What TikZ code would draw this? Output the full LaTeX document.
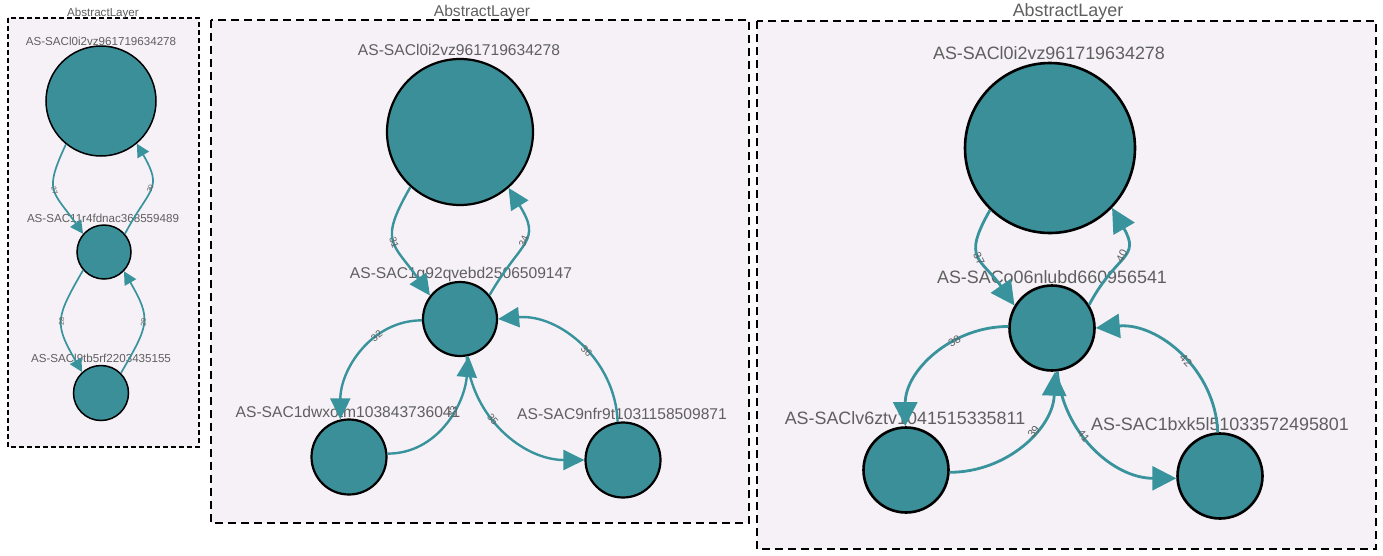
\documentclass[tikz,border=0pt]{standalone}
\usepackage{fontspec}
\setmainfont{Liberation Sans}
\usetikzlibrary{arrows.meta}

\definecolor{nodeteal}{RGB}{58,143,153}
\definecolor{edgeteal}{RGB}{57,147,156}
\definecolor{panelbg}{RGB}{245,241,247}
\definecolor{labelgray}{RGB}{95,95,95}

\tikzset{
  layer/.style={draw=black, fill=panelbg},
  vertex/.style={circle, draw=black, fill=nodeteal, inner sep=0pt},
  vname/.style={text=labelgray, anchor=base, inner sep=0pt},
  link/.style={draw=edgeteal},
  weight/.style={text=labelgray, sloped, inner sep=0pt},
}

\begin{document}
\begin{tikzpicture}[x=1pt, y=1pt]

\useasboundingbox (0,0) rectangle (1383,-555);

% small layer
\draw[layer, line width=1.2pt, dash pattern=on 5pt off 3pt] (8,-18) rectangle (199,-447);
\node[vname, font={\fontsize{11.6}{12}\selectfont}] (l1-title) at (103,-16) {AbstractLayer};

\node[vertex, minimum size=110pt, line width=1.5pt] (l1-a) at (101,-101) {};
\node[vertex, minimum size=54pt, line width=1.5pt] (l1-b) at (104,-252) {};
\node[vertex, minimum size=55pt, line width=1.5pt] (l1-c) at (101,-393) {};

\node[vname, font={\fontsize{11.6}{12}\selectfont}] (l1-a-name) at (101,-45) {AS-SACl0i2vz961719634278};
\node[vname, font={\fontsize{11.6}{12}\selectfont}] (l1-b-name) at (103,-222) {AS-SAC11r4fdnac368559489};
\node[vname, font={\fontsize{11.6}{12}\selectfont}] (l1-c-name) at (101,-362) {AS-SACl9tb5rf2203435155};

\begin{scope}[link, line width=1.7pt, -{Triangle[length=13pt,width=13pt]}]
\draw (l1-a.231) to[out=245,in=125,looseness=1.5] node[weight, pos=.5, font={\fontsize{7}{7}\selectfont}] {27} (l1-b.139);
\draw (l1-b.41) to[out=62,in=-60,looseness=1.5] node[weight, pos=.5, font={\fontsize{7}{7}\selectfont}] {30} (l1-a.-50);
\draw (l1-b.221) to[out=240,in=120,looseness=1.4] node[weight, pos=.5, font={\fontsize{7}{7}\selectfont}] {28} (l1-c.132);
\draw (l1-c.45) to[out=60,in=-60,looseness=1.4] node[weight, pos=.5, font={\fontsize{7}{7}\selectfont}] {29} (l1-b.-44);
\end{scope}

% middle layer
\draw[layer, line width=2pt, dash pattern=on 8pt off 5pt] (211,-20) rectangle (749,-523);
\node[vname, font={\fontsize{15.6}{16}\selectfont}] (l2-title) at (482,-16.5) {AbstractLayer};

\node[vertex, minimum size=146pt, line width=2.2pt] (l2-a) at (460,-132) {};
\node[vertex, minimum size=74pt, line width=2.2pt] (l2-b) at (460,-319) {};
\node[vertex, minimum size=75pt, line width=2.2pt] (l2-c) at (349,-457) {};
\node[vertex, minimum size=75pt, line width=2.2pt] (l2-d) at (623,-460) {};

\node[vname, font={\fontsize{15.6}{16}\selectfont}] (l2-a-name) at (459,-55.6) {AS-SACl0i2vz961719634278};
\node[vname, font={\fontsize{15.6}{16}\selectfont}] (l2-b-name) at (461,-278.6) {AS-SAC1g92qvebd2506509147};
\node[vname, font={\fontsize{15.6}{16}\selectfont}] (l2-c-name) at (348,-417.6) {AS-SAC1dwxotm103843736041};
\node[vname, font={\fontsize{15.6}{16}\selectfont}] (l2-d-name) at (622,-419.6) {AS-SAC9nfr9t1031158509871};

\begin{scope}[link, line width=2.4pt, -{Triangle[length=21pt,width=20pt]}]
\draw (l2-a.228) to[out=240,in=125,looseness=1.5] node[weight, pos=.5, font={\fontsize{10}{10}\selectfont}] {31} (l2-b.142);
\draw (l2-b.39) to[out=60,in=-58,looseness=1.5] node[weight, pos=.5, font={\fontsize{10}{10}\selectfont}] {34} (l2-a.-49);
\draw (l2-b.182) to[out=180,in=90] node[weight, pos=.35, font={\fontsize{10}{10}\selectfont}] {32} (l2-c.103);
\draw (l2-c.5) to[out=0,in=-95] node[weight, pos=.6, font={\fontsize{10}{10}\selectfont}] {33} (l2-b.-77);
\draw (l2-b.-80) to[out=-85,in=180] node[weight, pos=.4, font={\fontsize{10}{10}\selectfont}] {35} (l2-d.180);
\draw (l2-d.98) to[out=92,in=5] node[weight, pos=.45, font={\fontsize{10}{10}\selectfont}] {36} (l2-b.0);
\end{scope}

% large layer
\draw[layer, line width=2pt, dash pattern=on 8pt off 5pt] (757,-21) rectangle (1376,-549);
\node[vname, font={\fontsize{17.9}{18}\selectfont}] (l3-title) at (1068,-16.4) {AbstractLayer};

\node[vertex, minimum size=170pt, line width=2.6pt] (l3-a) at (1050,-148) {};
\node[vertex, minimum size=85pt, line width=2.6pt] (l3-b) at (1052,-328) {};
\node[vertex, minimum size=85pt, line width=2.6pt] (l3-c) at (906,-470) {};
\node[vertex, minimum size=85pt, line width=2.6pt] (l3-d) at (1220,-476) {};

\node[vname, font={\fontsize{17.9}{18}\selectfont}] (l3-a-name) at (1049,-59.4) {AS-SACl0i2vz961719634278};
\node[vname, font={\fontsize{17.9}{18}\selectfont}] (l3-b-name) at (1052,-283.4) {AS-SACo06nlubd660956541};
\node[vname, font={\fontsize{17.9}{18}\selectfont}] (l3-c-name) at (905,-424.4) {AS-SAClv6ztv1041515335811};
\node[vname, font={\fontsize{17.9}{18}\selectfont}] (l3-d-name) at (1220,-430.4) {AS-SAC1bxk5l51033572495801};

\begin{scope}[link, line width=2.8pt, -{Triangle[length=24pt,width=24pt]}]
\draw (l3-a.226) to[out=240,in=125,looseness=1.5] node[weight, pos=.5, font={\fontsize{11}{11}\selectfont}] {37} (l3-b.149);
\draw (l3-b.32) to[out=62,in=-60,looseness=1.5] node[weight, pos=.5, font={\fontsize{11}{11}\selectfont}] {40} (l3-a.-44);
\draw (l3-b.178) to[out=180,in=90] node[weight, pos=.35, font={\fontsize{11}{11}\selectfont}] {38} (l3-c.91);
\draw (l3-c.-3) to[out=0,in=-92] node[weight, pos=.6, font={\fontsize{11}{11}\selectfont}] {39} (l3-b.-86);
\draw (l3-b.-83) to[out=-85,in=180] node[weight, pos=.4, font={\fontsize{11}{11}\selectfont}] {41} (l3-d.183);
\draw (l3-d.93) to[out=92,in=5] node[weight, pos=.45, font={\fontsize{11}{11}\selectfont}] {42} (l3-b.0);
\end{scope}

\end{tikzpicture}
\end{document}
